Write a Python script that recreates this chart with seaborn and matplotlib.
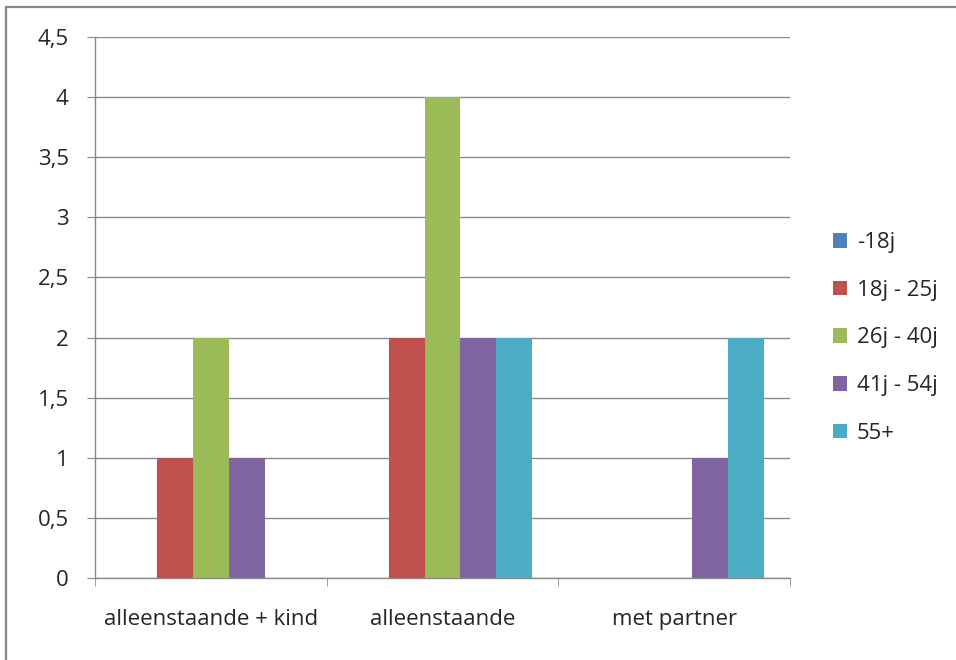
import pandas as pd
import seaborn as sns
import matplotlib.pyplot as plt
from matplotlib.lines import Line2D
from matplotlib.ticker import MultipleLocator

# data
categories = ["alleenstaande + kind", "alleenstaande", "met partner"]
age_groups = ["-18j", "18j - 25j", "26j - 40j", "41j - 54j", "55+"]
counts_min18 = [0, 0, 0]
counts_18_25 = [1, 2, 0]
counts_26_40 = [2, 4, 0]
counts_41_54 = [1, 2, 1]
counts_55plus = [0, 2, 2]
y_ticks = [0, 0.5, 1, 1.5, 2, 2.5, 3, 3.5, 4, 4.5]
colors = ["#4F81BD", "#C0504D", "#9BBB59", "#8064A2", "#4BACC6"]

series = [counts_min18, counts_18_25, counts_26_40, counts_41_54, counts_55plus]
rows = []
for grp, vals in zip(age_groups, series):
    for cat, v in zip(categories, vals):
        rows.append({"cat": cat, "groep": grp, "aantal": v})
df = pd.DataFrame(rows)

sns.set_style("white")
plt.rcParams["font.family"] = ["Open Sans", "DejaVu Sans"]
fs = 16

fig = plt.figure(figsize=(9.56, 6.6), dpi=100)
ax = fig.add_axes([95 / 956, 82 / 660, 695 / 956, 541 / 660])

sns.barplot(data=df, x="cat", y="aantal", hue="groep", order=categories,
            hue_order=age_groups, palette=colors, width=0.776,
            linewidth=0, saturation=1, errorbar=None, ax=ax)

ax.set_ylim(0, 4.5)
ax.set_xlim(-0.5, 2.5)
ax.set_yticks(y_ticks)
ax.set_yticklabels([("%g" % t).replace(".", ",") for t in y_ticks])
ax.yaxis.grid(True, color="#8a8a8a", linewidth=1)
ax.set_axisbelow(True)
ax.set_xlabel("")
ax.set_ylabel("")

for s in ["top", "right"]:
    ax.spines[s].set_visible(False)
for s in ["left", "bottom"]:
    ax.spines[s].set_color("#8a8a8a")
    ax.spines[s].set_linewidth(1)

ax.tick_params(axis="y", length=6, color="#8a8a8a", pad=13, labelsize=fs, left=True)
ax.tick_params(axis="x", which="major", length=0, pad=22, labelsize=fs)
ax.xaxis.set_minor_locator(MultipleLocator(1, offset=0.5))
ax.tick_params(axis="x", which="minor", length=6, color="#8a8a8a", bottom=True, direction="out")

ax.legend(loc="center left", bbox_to_anchor=(822 / 956, 322 / 660),
          bbox_transform=fig.transFigure, frameon=False, fontsize=fs,
          handlelength=0.62, handleheight=0.62, handletextpad=0.45, labelspacing=1.2,
          borderpad=0)

# outer chart border (top and left only)
fig.add_artist(Line2D([6 / 956, 6 / 956], [0, 1 - 7 / 660], transform=fig.transFigure,
                      color="#868686", linewidth=1.6))
fig.add_artist(Line2D([6 / 956, 1], [1 - 7 / 660, 1 - 7 / 660], transform=fig.transFigure,
                      color="#868686", linewidth=1.6))

plt.savefig("out.png", dpi=100)
